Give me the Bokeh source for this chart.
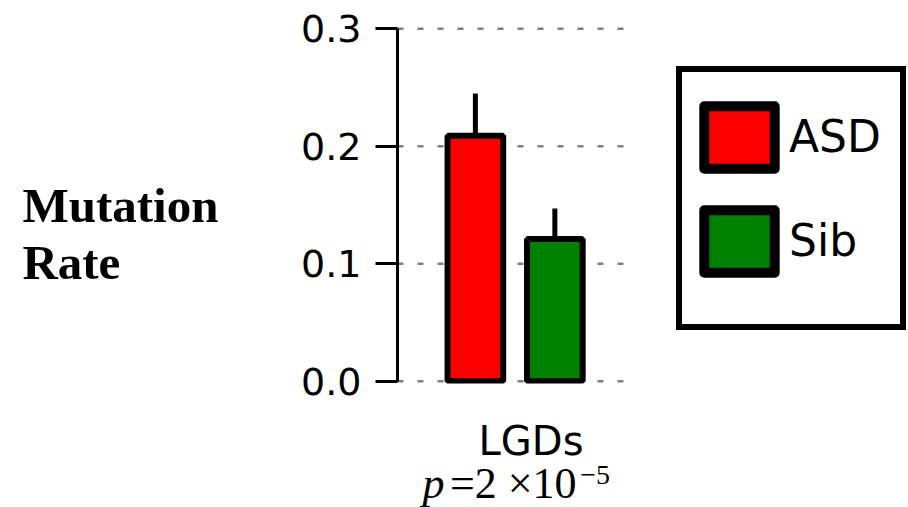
from bokeh.plotting import figure
from bokeh.models import (Range1d, FixedTicker, PrintfTickFormatter,
                          Legend, LegendItem, ColumnDataSource)
from bokeh.core.properties import value
from bokeh.embed import file_html
from bokeh.resources import INLINE

# ---- data ----
categories = ["LGDs"]
groups = ["ASD", "Sib"]
rates = [0.209, 0.121]
upper_err = [0.245, 0.147]
colors = ["#ff0000", "#008000"]
y_ticks = [0.0, 0.1, 0.2, 0.3]
y_title_lines = ["Mutation", "Rate"]
p_symbol = "p"
p_mantissa = "=2 \u00d710"
p_exponent = "\u22125"

# ---- layout helpers (positions, not data) ----
bar_width = 0.35
bar_x = [0.49, 0.99]
cat_tick = 0.84
axes_x_end = 1.466          # right end of the visible axes area (grid extent)

src = ColumnDataSource(dict(x=bar_x, top=rates, up=upper_err, color=colors, name=groups))

p = figure(width=908, height=507, x_range=Range1d(0, 3.215), y_range=Range1d(-0.002, 0.302),
           output_backend="svg", toolbar_location=None,
           min_border_left=397, min_border_right=0, min_border_top=26, min_border_bottom=124)
p.outline_line_color = None
p.background_fill_color = "white"
p.border_fill_color = "white"

# grid: dashed horizontal lines only across the axes area
p.xgrid.visible = False
p.ygrid.visible = False
p.segment(x0=[0.0] * len(y_ticks), x1=[axes_x_end] * len(y_ticks), y0=y_ticks, y1=y_ticks,
          line_color="#808080", line_width=2.5, line_dash="6 14", level="underlay")

# y axis
ya = p.yaxis[0]
ya.ticker = FixedTicker(ticks=y_ticks)
ya.bounds = (0, 0.3)
ya.formatter = PrintfTickFormatter(format="%.1f")
ya.axis_line_width = 3
ya.major_tick_line_width = 3
ya.major_tick_out = 22
ya.major_tick_in = 0
ya.minor_tick_line_color = None
ya.major_label_text_font = "DejaVu Sans"
ya.major_label_text_font_size = "38px"
ya.major_label_text_color = "black"
ya.major_label_standoff = 14

# x axis (category label only)
xa = p.xaxis[0]
xa.ticker = FixedTicker(ticks=[cat_tick])
xa.major_label_overrides = {cat_tick: categories[0]}
xa.axis_line_color = None
xa.major_tick_line_color = None
xa.minor_tick_line_color = None
xa.major_label_text_font = "DejaVu Sans"
xa.major_label_text_font_size = "40px"
xa.major_label_text_color = "black"
xa.major_label_standoff = 28

# error bars (upper only) and bars
p.segment(x0="x", y0="top", x1="x", y1="up", source=src, line_color="black", line_width=5)
p.vbar(x="x", top="top", width=bar_width, source=src, fill_color="color",
       line_color="black", line_width=6)

# legend proxies
items = []
for i, g in enumerate(groups):
    r = p.vbar(x=[bar_x[i]], top=[rates[i]], width=bar_width, fill_color=colors[i],
               line_color="black", line_width=10, line_join="round", visible=False)
    items.append(LegendItem(label=g, renderers=[r]))

has_title_loc = "title_location" in Legend.properties()
legend = Legend(items=items, location=(279, 53 if has_title_loc else 60))
legend.border_line_color = "black"
legend.border_line_alpha = 1.0
legend.border_line_width = 6
legend.background_fill_color = "white"
legend.background_fill_alpha = 1
legend.padding = 13
legend.margin = 0
legend.spacing = 1
legend.glyph_width = 88
legend.glyph_height = 78
legend.label_height = 103
legend.label_width = 98
legend.label_standoff = 6
legend.label_text_font = "DejaVu Sans"
legend.label_text_font_size = "44px"
legend.label_text_color = "black"
legend.label_text_baseline = "alphabetic"
if has_title_loc:
    legend.title = " "
    legend.title_location = "below"
    legend.title_text_font_size = "13px"
    legend.title_standoff = 4
p.add_layout(legend)

# y title (two lines) -- overlay level so it is not clipped to the frame
p.text(x=[-2.36, -2.36], y=[0.1495, 0.101], text=y_title_lines,
       text_font=value("Liberation Serif"), text_font_style="bold",
       text_font_size="49px", text_color="black", text_baseline="alphabetic",
       text_align="left", level="overlay")

# p-value annotation
p.text(x=[0.157], y=[-0.087], text=[p_symbol], text_font=value("Liberation Serif"),
       text_font_style="italic", text_font_size="44px", text_color="black",
       text_baseline="alphabetic", text_align="left", level="overlay")
p.text(x=[0.33], y=[-0.087], text=[p_mantissa], text_font=value("Liberation Serif"),
       text_font_size="44px", text_color="black",
       text_baseline="alphabetic", text_align="left", level="overlay")
p.text(x=[1.15], y=[-0.080], text=[p_exponent], text_font=value("Liberation Serif"),
       text_font_size="28px", text_color="black",
       text_baseline="alphabetic", text_align="left", level="overlay")

open("out.html", "w").write(file_html(p, INLINE))
